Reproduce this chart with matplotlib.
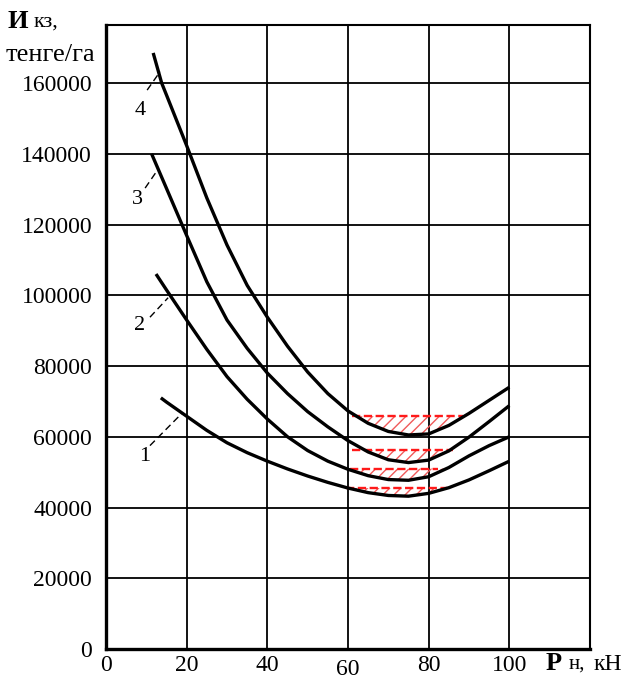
import matplotlib.pyplot as plt
import numpy as np
from matplotlib.transforms import ScaledTranslation

# axis ticks
x_ticks = [0, 20, 40, 60, 80, 100, 120]
x_tick_labels = ["0", "20", "40", "60", "80", "100", ""]
y_ticks = [0, 20000, 40000, 60000, 80000, 100000, 120000, 140000, 160000]
y_tick_labels = [str(v) for v in y_ticks]

# curves (P, kN -> cost, tenge/ha)
x_curve1 = [13.6, 15, 20, 25, 30, 35, 40, 45, 50, 55, 60, 65, 70, 75,
            80, 85, 90, 95, 100]
cost_curve1 = [71000, 69800, 65800, 61800, 58300, 55500, 53100, 50900,
               48900, 47100, 45500, 44200, 43400, 43200, 44000, 45600,
               47800, 50400, 53100]

x_curve2 = [12.4, 15, 20, 25, 30, 35, 40, 45, 50, 55, 60, 65, 70, 75,
            80, 85, 90, 95, 100]
cost_curve2 = [106000, 101500, 93000, 84700, 77000, 70600, 65000, 60000,
               56100, 53100, 50800, 49000, 47900, 47700, 48700, 51300,
               54600, 57500, 60000]

x_curve3 = [11.3, 15, 20, 25, 30, 35, 40, 45, 50, 55, 60, 65, 70, 75,
            80, 85, 90, 95, 100]
cost_curve3 = [140000, 130200, 116900, 103800, 93000, 85000, 78000, 72200,
               67100, 62800, 58900, 55700, 53500, 52700, 53400, 56000,
               59900, 64300, 68800]

x_curve4 = [11.7, 13.8, 15, 20, 25, 30, 35, 40, 45, 50, 55, 60, 65, 70,
            75, 80, 85, 90, 95, 100]
cost_curve4 = [168500, 160000, 156600, 142300, 127500, 114200, 102800,
               93800, 85600, 78300, 72200, 67300, 63800, 61500, 60500,
               60800, 63200, 66600, 70300, 74000]

# near-optimal zones (red dashed level + hatched area)
zone_levels = [45500, 51000, 56200, 65800]
zone_starts = [59.5, 60.5, 61, 61]
zone_ends = [84.5, 82.3, 86, 88.5]

# curve numbers and their leader lines
curve_names = ["1", "2", "3", "4"]
name_x = [9.7, 8.4, 7.7, 8.4]
name_y = [54300, 91500, 127200, 152200]
leader_x0 = [10.9, 10.9, 9.7, 10.2]
leader_y0 = [57500, 93800, 130300, 158000]
leader_x1 = [18.8, 15.4, 12.9, 13.4]
leader_y1 = [66600, 99300, 135600, 163200]


def main():
    plt.rcParams['font.family'] = ['Liberation Serif', 'DejaVu Serif']
    plt.rcParams['hatch.linewidth'] = 1.0

    W, H = 625, 684
    fig = plt.figure(figsize=(W / 100, H / 100), dpi=100)
    ax = fig.add_axes([106 / W, (H - 649) / H, (590 - 106) / W,
                       (649 - 25) / H])

    curves = [(x_curve1, cost_curve1), (x_curve2, cost_curve2),
              (x_curve3, cost_curve3), (x_curve4, cost_curve4)]

    for i, (xs, ys) in enumerate(curves):
        xs = np.array(xs)
        ys = np.array(ys)
        lvl = zone_levels[i]
        ax.fill_between(xs, ys, lvl, where=ys <= lvl, interpolate=True,
                        facecolor='none', edgecolor='#f05a5a', hatch='///',
                        linewidth=0, zorder=2)
        ax.plot([zone_starts[i], zone_ends[i]], [lvl, lvl], color='#ff1a1a',
                lw=1.7, linestyle=(0, (3.5, 1.5)), zorder=3)
        ax.plot(xs, ys, color='black', lw=2.4, solid_capstyle='butt',
                solid_joinstyle='round', zorder=4)

    for i, name in enumerate(curve_names):
        ax.text(name_x[i], name_y[i], name, fontsize=16, ha='center',
                va='center', zorder=5)
        ax.plot([leader_x0[i], leader_x1[i]], [leader_y0[i], leader_y1[i]],
                color='black', lw=1.0, linestyle=(0, (5, 3)), zorder=5)

    ax.set_xlim(0, 120)
    ax.set_ylim(0, 176400)
    ax.set_xticks(x_ticks)
    ax.set_xticklabels(x_tick_labels)
    ax.set_yticks(y_ticks)
    ax.set_yticklabels(y_tick_labels)
    ax.tick_params(axis='both', length=0, labelsize=17)
    ax.tick_params(axis='x', pad=4)
    ax.tick_params(axis='y', pad=10)
    ax.grid(True, color='black', lw=1.3)
    ax.set_axisbelow(True)

    for side in ['left', 'bottom']:
        ax.spines[side].set_linewidth(2.4)
    for side in ['top', 'right']:
        ax.spines[side].set_linewidth(1.5)

    # the "60" label sits a bit lower in the original
    lab60 = ax.xaxis.get_major_ticks()[3].label1
    lab60.set_transform(lab60.get_transform() +
                        ScaledTranslation(0, -4 / 100, fig.dpi_scale_trans))

    # axis titles
    fig.text(8 / W, 1 - 22 / H, "И", fontsize=19, fontweight='bold',
             va='center')
    fig.text(34 / W, 1 - 22 / H, "кз,", fontsize=16, va='center')
    fig.text(6 / W, 1 - 55 / H, "тенге/га", fontsize=19, va='center')
    fig.text(546 / W, 1 - 664 / H, "Р", fontsize=19, fontweight='bold',
             va='center')
    fig.text(569 / W, 1 - 664 / H, "н,", fontsize=15, va='center')
    fig.text(594 / W, 1 - 664 / H, "кН", fontsize=17, va='center')

    fig.savefig("out.png", dpi=100)


if __name__ == "__main__":
    main()
